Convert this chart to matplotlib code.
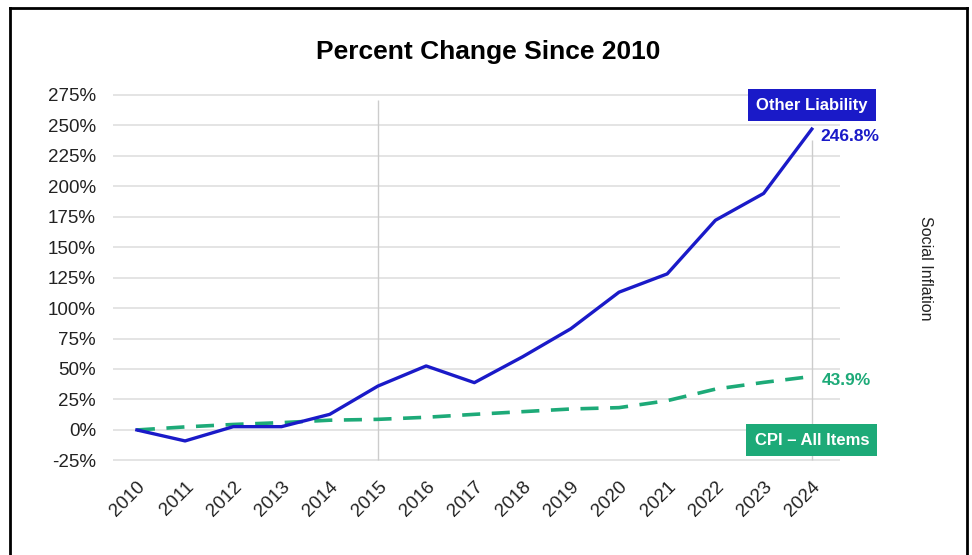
import matplotlib
matplotlib.use("Agg")
import matplotlib.pyplot as plt
from matplotlib.lines import Line2D

years = list(range(2010, 2025))
other_liability = [0, -9, 2.7, 2.7, 12.8, 36, 52.5, 38.8, 60, 83, 113, 128, 172, 194, 246.8]
cpi_all_items = [0, 2.5, 4.5, 6, 8, 8.7, 10.4, 12.8, 15, 17.2, 18.3, 24, 33.5, 39, 43.9]
y_ticks = list(range(-25, 276, 25))
x_labels = [str(y) for y in years]
title = "Percent Change Since 2010"
side_label = "Social Inflation"
blue = "#1A1AC8"
green = "#1DAA78"

plt.rcParams['font.family'] = ['Liberation Sans', 'DejaVu Sans']

fig = plt.figure(figsize=(9.72, 5.55), dpi=100)
fig.patch.set_facecolor('white')
ax = fig.add_axes([0.116, 0.166, 0.748, 0.670])

ax.set_xlim(2009.5, 2024.58)
ax.set_ylim(-27, 278)

for s in ax.spines.values():
    s.set_visible(False)
ax.set_yticks(y_ticks)
ax.set_yticklabels([f"{v}%" for v in y_ticks], fontsize=13.5, color="#222222")
ax.set_xticks(years)
ax.set_xticklabels(x_labels, rotation=45, fontsize=13.5, color="#222222", ha='right', rotation_mode='anchor')
ax.tick_params(length=0)
ax.tick_params(axis='y', pad=12)
ax.tick_params(axis='x', pad=11)
ax.yaxis.grid(True, color="#E4E4E4", linewidth=1.4)
ax.set_axisbelow(True)

ax.vlines([2015], -25, 271, color="#CCCCCC", linewidth=1.0, zorder=1)
ax.vlines([2024], -25, 238, color="#CCCCCC", linewidth=1.0, zorder=1)

ax.plot(years, cpi_all_items, color=green, linewidth=2.6, linestyle=(0, (5, 3.2)), zorder=3)
ax.plot(years, other_liability, color=blue, linewidth=2.4, zorder=4)

ax.annotate(f"{other_liability[-1]:.1f}%", xy=(years[-1], other_liability[-1]), xytext=(6, -5),
            textcoords='offset points', color=blue, fontsize=12.5, fontweight='bold', ha='left', va='center')
ax.annotate(f"{cpi_all_items[-1]:.1f}%", xy=(years[-1], cpi_all_items[-1]), xytext=(7, -3),
            textcoords='offset points', color=green, fontsize=12.5, fontweight='bold', ha='left', va='center')

ax.text(years[-1], 266.5, "Other Liability", color='white', fontsize=12, fontweight='bold', ha='center', va='center',
        bbox=dict(boxstyle='square,pad=0.5', fc=blue, ec='none'), zorder=5)
ax.text(years[-1], -8.5, "CPI – All Items", color='white', fontsize=12, fontweight='bold', ha='center', va='center',
        bbox=dict(boxstyle='square,pad=0.5', fc=green, ec='none'), zorder=5)

fig.text(0.502, 0.906, title, fontsize=19, fontweight='bold', ha='center', va='center', color='black')
fig.text(0.952, 0.517, side_label, fontsize=11.5, rotation=-90, ha='center', va='center', color='#222222')

# frame
fw, fh = 972, 555
lw = 2.0
fig.add_artist(Line2D([10/fw, 10/fw], [0, 1 - 8/fh], color='black', linewidth=lw, transform=fig.transFigure))
fig.add_artist(Line2D([10/fw, 967/fw], [1 - 8/fh, 1 - 8/fh], color='black', linewidth=lw, transform=fig.transFigure))
fig.add_artist(Line2D([967/fw, 967/fw], [0, 1 - 8/fh], color='black', linewidth=lw, transform=fig.transFigure))

fig.savefig("out.png", dpi=100)
